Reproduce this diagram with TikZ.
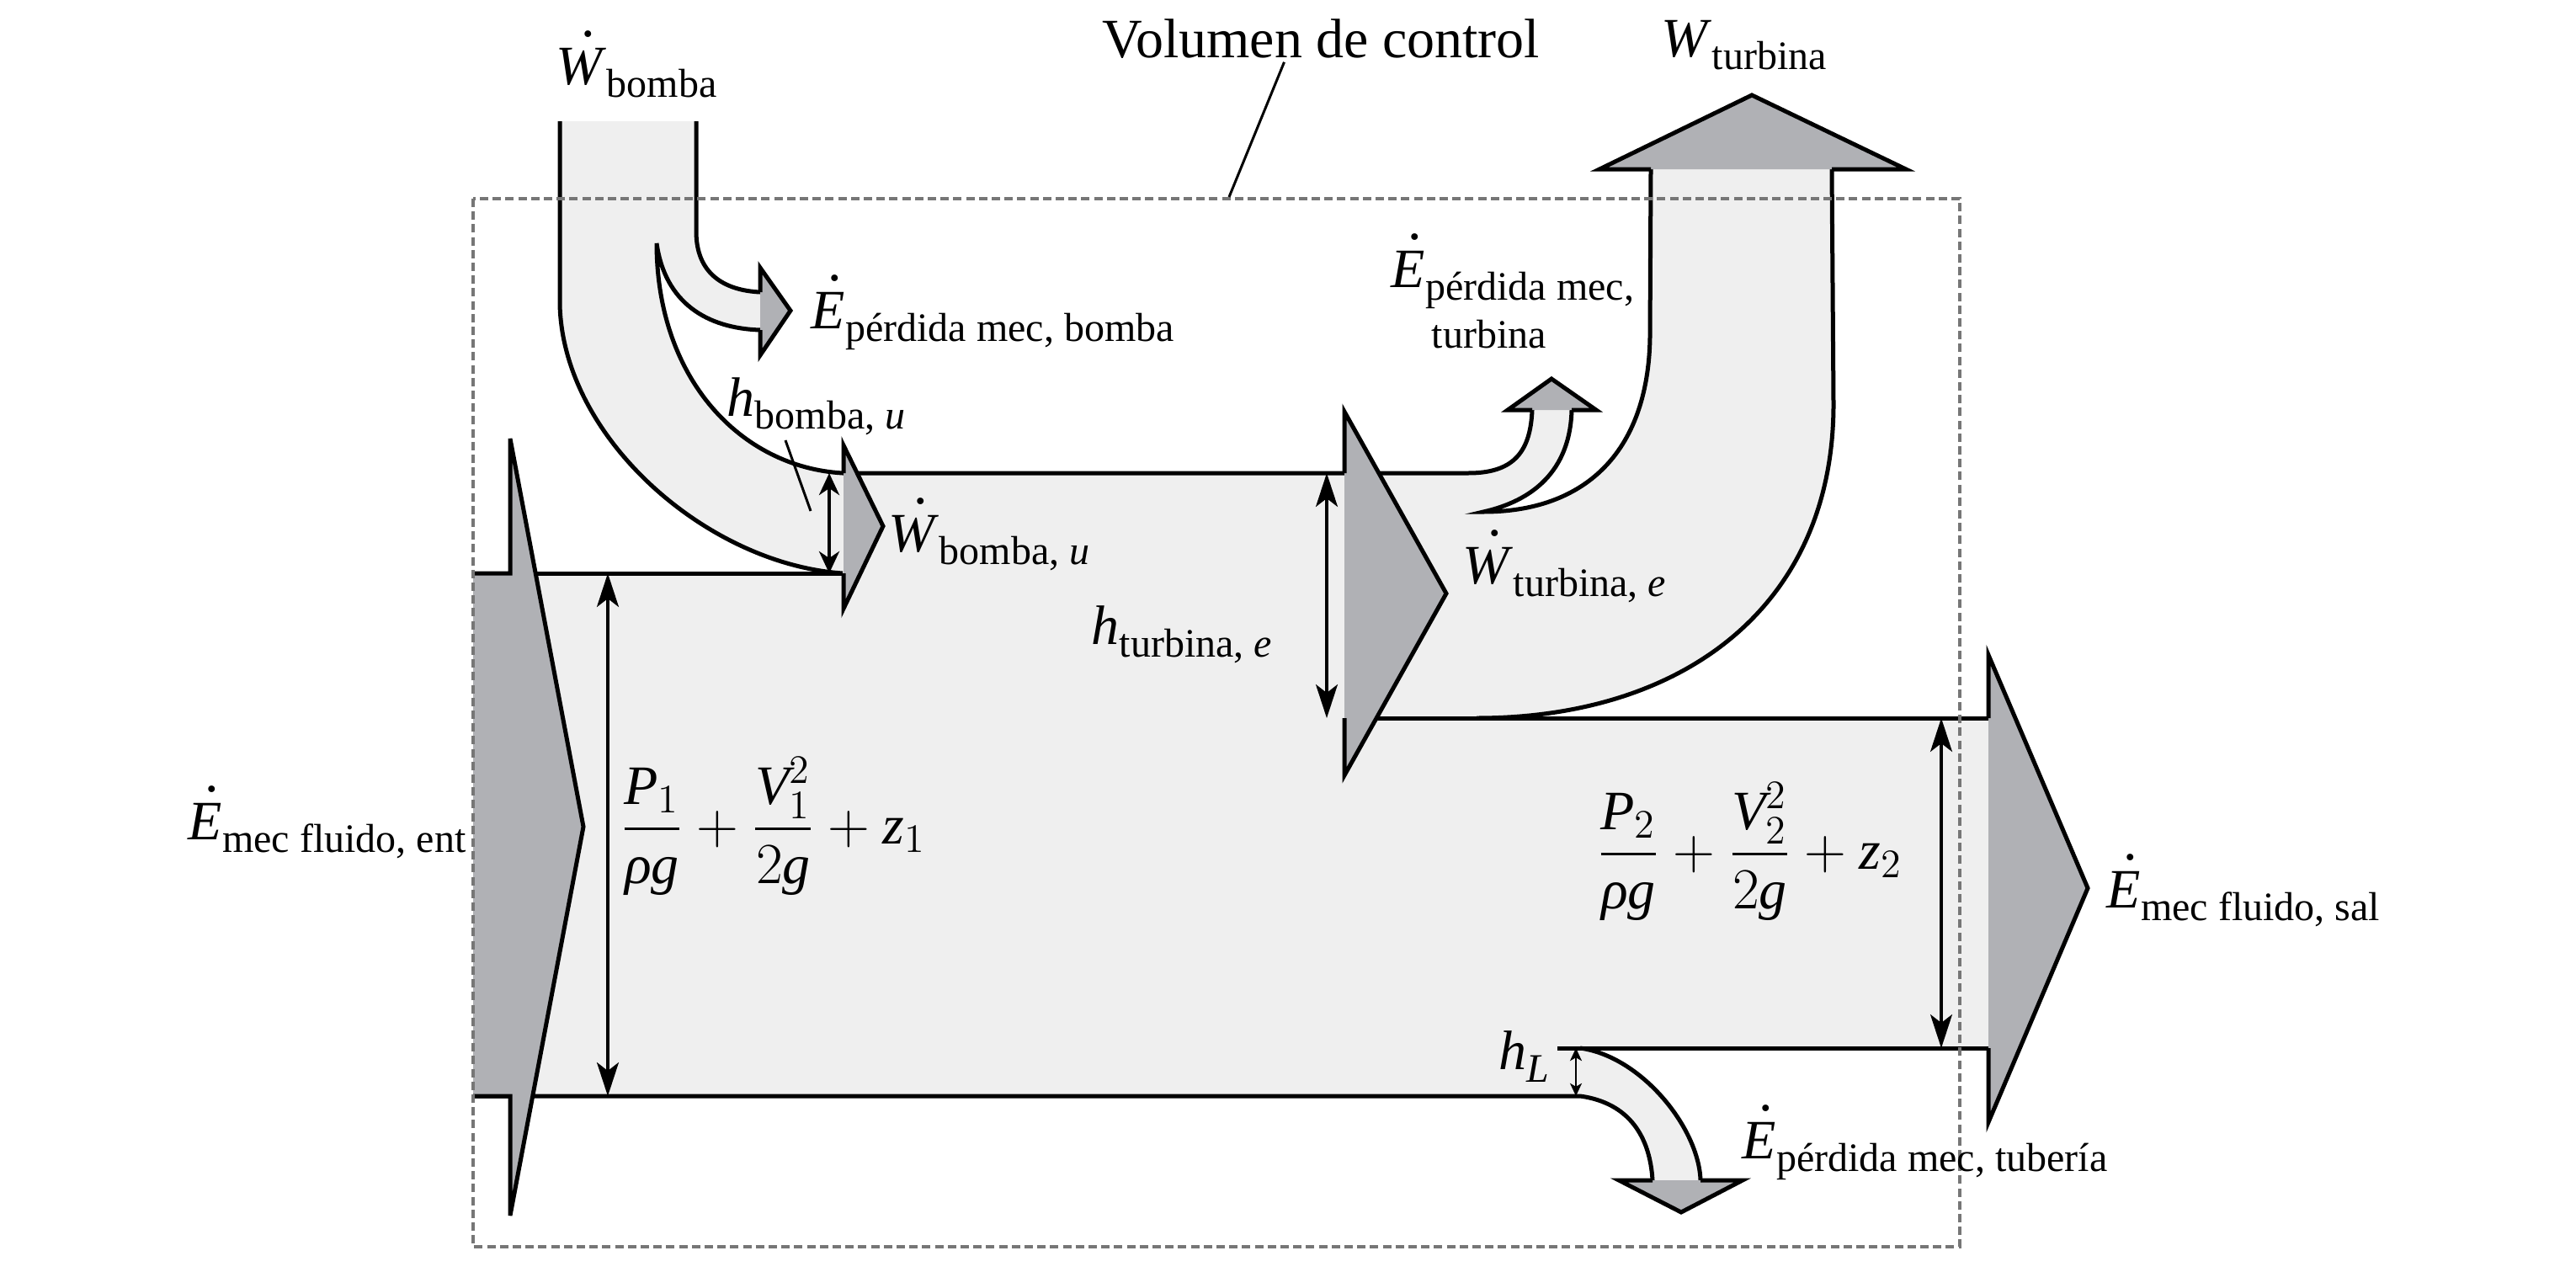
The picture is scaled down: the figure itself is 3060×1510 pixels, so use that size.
\documentclass[tikz,border=0pt]{standalone}
\usepackage{amsmath}
\usepackage{fontspec}
\setmainfont{Liberation Serif}
\usetikzlibrary{arrows.meta}

\definecolor{pipegray}{RGB}{239,239,239}
\definecolor{headgray}{RGB}{176,177,181}
\definecolor{cvgray}{RGB}{118,118,118}
\DeclareMathSizes{16.5}{16.5}{12}{9}

% dotted italic letter and lowered subscript text
\newcommand\dt[1]{\leavevmode{\ooalign{\textit{#1}\crcr\hidewidth\kern0.25em\raisebox{0.86em}{.}\hidewidth\crcr}}}
\newcommand\sbs[1]{\raisebox{-3.75pt}{\fontsize{12}{14}\selectfont #1}}

\tikzset{
  lab/.style={anchor=base west, inner sep=0pt, font=\fontsize{16.5}{19.8}\selectfont},
  pipefill/.style={fill=pipegray, draw=none},
  headfill/.style={fill=headgray, draw=none},
  outl/.style={line width=1.25pt},
  dim/.style={<->, line width=0.8pt, >={Stealth[length=10pt,width=6.5pt,inset=2.5pt]}},
  dimsm/.style={<->, line width=1.1pt, >={Stealth[length=6.5pt,width=6pt,inset=2pt]}},
  dimxs/.style={<->, line width=0.5pt, >={Stealth[length=3.8pt,width=3.5pt,inset=1pt]}},
  leader/.style={line width=0.75pt},
  cv/.style={draw=cvgray, line width=0.8pt, dash pattern=on 2.5pt off 1.3pt},
}

\begin{document}
\begin{tikzpicture}[x=0.25pt, y=-0.25pt, line cap=butt, line join=miter]

  %% ════ fluid fills ════
  \fill[pipefill] (562,681) -- (1001,681) -- (1001,562) -- (1597,562) -- (1597,853) -- (2362,853)
    -- (2362,1245) -- (1877,1245) -- (1877,1302) -- (562,1302) -- cycle;
  % pump work band
  \fill[pipefill] (665,144) -- (665,361) .. controls (668,520) and (840,670) .. (1001,681) -- (1001,562)
    .. controls (880,555) and (780,450) .. (780,289) .. controls (790,360) and (840,390) .. (903,392)
    -- (903,347) .. controls (860,345) and (827,325) .. (827,275) -- (827,144) -- cycle;
  % turbine work band and turbine loss band
  \fill[pipefill] (1597,562) -- (1744,562) .. controls (1795,562) and (1818,540) .. (1820,487) -- (1867,487)
    .. controls (1865,560) and (1820,595) .. (1762,608) .. controls (1880,608) and (1958,540) .. (1960,400)
    -- (1961,201) -- (2176,201) -- (2178,480) .. controls (2178,720) and (2000,853) .. (1754,853)
    -- (1597,853) -- cycle;
  % pipe loss band
  \fill[pipefill] (1877,1245) .. controls (1950,1255) and (2018,1340) .. (2020,1402) -- (1963,1402)
    .. controls (1960,1350) and (1935,1310) .. (1877,1302) -- cycle;

  %% ════ outlines ════
  \draw[outl] (562,681) -- (1001,681);
  \draw[outl] (1001,562) -- (1744,562) .. controls (1795,562) and (1818,540) .. (1820,487);
  \draw[outl] (1867,487) .. controls (1865,560) and (1820,595) .. (1762,608)
    .. controls (1880,608) and (1958,540) .. (1960,400) -- (1961,201);
  \draw[outl] (2176,201) -- (2178,480) .. controls (2178,720) and (2000,853) .. (1754,853);
  \draw[outl] (1597,853) -- (2362,853);
  \draw[outl] (1850,1245) -- (2362,1245);
  \draw[outl] (562,1302) -- (1877,1302) .. controls (1935,1310) and (1960,1350) .. (1963,1402);
  \draw[outl] (1877,1245) .. controls (1950,1255) and (2018,1340) .. (2020,1402);
  \draw[outl] (665,144) -- (665,361) .. controls (668,520) and (840,670) .. (1001,681);
  \draw[outl] (827,144) -- (827,275) .. controls (827,325) and (860,345) .. (903,347);
  \draw[outl] (903,392) .. controls (840,390) and (790,360) .. (780,289)
    .. controls (780,450) and (880,555) .. (1001,562);

  %% ════ arrow heads ════
  % inlet
  \fill[headfill] (562,681) -- (606,681) -- (606,521) -- (693,982) -- (606,1444) -- (606,1302) -- (562,1302) -- cycle;
  \draw[outl] (562,681) -- (606,681) -- (606,521) -- (693,982) -- (606,1444) -- (606,1302) -- (562,1302);
  % pump
  \fill[headfill] (1002,529) -- (1049,625) -- (1002,723) -- cycle;
  \draw[outl] (1002,562) -- (1002,529) -- (1049,625) -- (1002,723) -- (1002,681);
  % turbine
  \fill[headfill] (1597,489) -- (1718,705) -- (1597,921) -- cycle;
  \draw[outl] (1597,562) -- (1597,489) -- (1718,705) -- (1597,921) -- (1597,853);
  % outlet
  \fill[headfill] (2362,778) -- (2480,1055) -- (2362,1333) -- cycle;
  \draw[outl] (2362,853) -- (2362,778) -- (2480,1055) -- (2362,1333) -- (2362,1245);
  % pump loss
  \fill[headfill] (903,318) -- (939,369) -- (903,422) -- cycle;
  \draw[outl] (903,347) -- (903,318) -- (939,369) -- (903,422) -- (903,392);
  % turbine loss
  \fill[headfill] (1791,487) -- (1843,450) -- (1896,487) -- cycle;
  \draw[outl] (1820,487) -- (1791,487) -- (1843,450) -- (1896,487) -- (1867,487);
  % turbine work
  \fill[headfill] (1900,201) -- (2081,113) -- (2264,201) -- cycle;
  \draw[outl] (1961,201) -- (1900,201) -- (2081,113) -- (2264,201) -- (2176,201);
  % pipe loss
  \fill[headfill] (1923,1402) -- (1997,1440) -- (2070,1402) -- cycle;
  \draw[outl] (1963,1402) -- (1923,1402) -- (1997,1440) -- (2070,1402) -- (2020,1402);

  %% ════ control volume ════
  \draw[cv] (562,236) rectangle (2328,1481);

  %% ════ heads (dimension arrows) ════
  \coordinate (inTop) at (722,681);   \coordinate (inBot) at (722,1302);
  \coordinate (outTop) at (2306,853); \coordinate (outBot) at (2306,1245);
  \coordinate (tuTop) at (1576,562);  \coordinate (tuBot) at (1576,853);
  \coordinate (puTop) at (985,562);   \coordinate (puBot) at (985,681);
  \coordinate (hlTop) at (1872,1245); \coordinate (hlBot) at (1872,1302);
  \draw[dim] (inTop) -- (inBot);
  \draw[dim] (outTop) -- (outBot);
  \draw[dim] (tuTop) -- (tuBot);
  \draw[dimsm] (puTop) -- (puBot);
  \draw[dimxs] (hlTop) -- (hlBot);

  %% ════ labels ════
  \node[lab] (wbomba) at (660,100) {\dt{W}\sbs{bomba}};
  \node[lab] (vc) at (1309,68) {Volumen de control};
  \node[lab] (wturb) at (1973,67) {\textit{W}\sbs{turbina}};
  \node[lab] (epbomba) at (963,390) {\dt{E}\sbs{pérdida mec, bomba}};
  \node[lab] (epturb) at (1652,341) {\dt{E}\sbs{pérdida mec,}};
  \node[lab, font=\fontsize{12}{14}\selectfont] (epturb2) at (1700,413) {turbina};
  \node[lab] (hbomba) at (863,494) {\textit{h}\sbs{bomba, \textit{u}}};
  \node[lab] (wbombau) at (1055,655) {\dt{W}\sbs{bomba, \textit{u}}};
  \node[lab] (wturbe) at (1737,693) {\dt{W}\sbs{turbina, \textit{e}}};
  \node[lab] (hturb) at (1296,765) {\textit{h}\sbs{turbina, \textit{e}}};
  \node[lab] (emecin) at (223,997) {\dt{E}\sbs{mec fluido, ent}};
  \node[lab] (emecout) at (2502,1078) {\dt{E}\sbs{mec fluido, sal}};
  \node[lab] (eptub) at (2069,1376) {\dt{E}\sbs{pérdida mec, tubería}};
  \node[lab] (hl) at (1780,1270) {\textit{h}\sbs{\textit{L}}};
  \node[lab] (bern1) at (736,1002) {$\dfrac{\textit{P}_1}{\textit{ρg}}+\dfrac{\textit{V}_1^2}{2\textit{g}}+\textit{z}_1$};
  \node[lab] (bern2) at (1896,1032) {$\dfrac{\textit{P}_2}{\textit{ρg}}+\dfrac{\textit{V}_2^2}{2\textit{g}}+\textit{z}_2$};

  % leader lines
  \coordinate (vcFoot) at (1460,234);
  \coordinate (hbFoot) at (963,607);
  \draw[leader] ([xshift=-11pt,yshift=-1pt]vc.south) -- (vcFoot);
  \draw[leader] (933,523) -- (hbFoot);

  \pgfresetboundingbox
  \path[use as bounding box] (0,0) rectangle (3060,1510);
\end{tikzpicture}
\end{document}
